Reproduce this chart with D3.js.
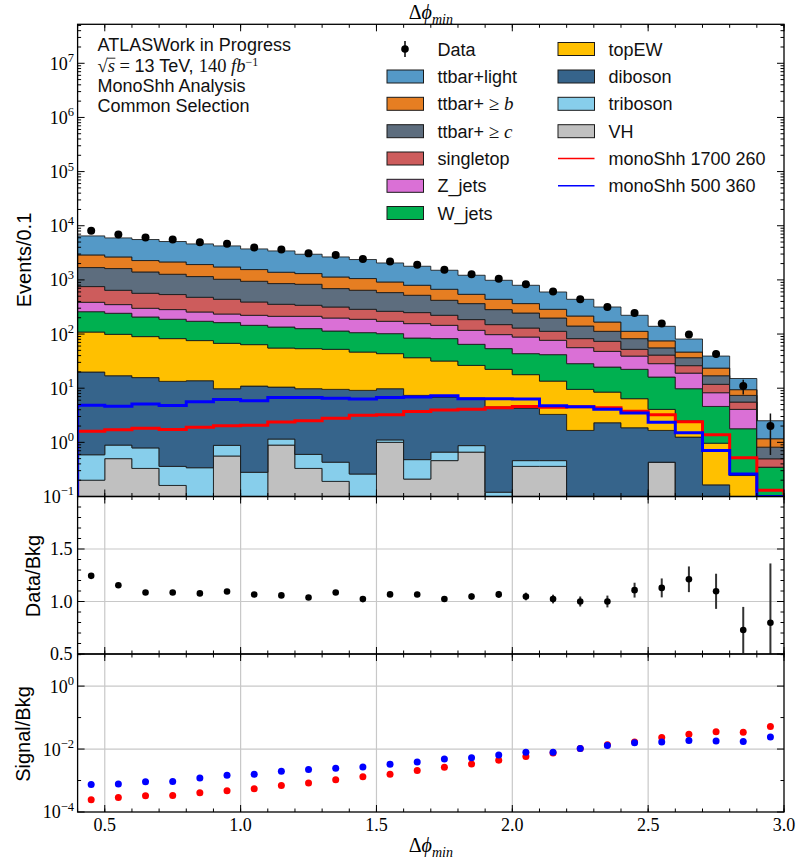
<!DOCTYPE html>
<html>
<head>
<meta charset="utf-8">
<script src="https://cdn.jsdelivr.net/npm/d3@7/dist/d3.min.js"></script>
<style>
  body { margin: 0; background: #fff; }
  svg { display: block; }
</style>
</head>
<body>
<svg id="chart"></svg>
<script>
// 分箱边界 (Δφmin, 步长 0.1)
const binEdges = [0.4, 0.5, 0.6, 0.7, 0.8, 0.9, 1.0, 1.1, 1.2, 1.3, 1.4, 1.5, 1.6, 1.7, 1.8,
  1.9, 2.0, 2.1, 2.2, 2.3, 2.4, 2.5, 2.6, 2.7, 2.8, 2.9, 3.0];

// 各本底过程每个分箱的事例数
const vhValues = [0.20, 0.50, 0.33, 0.16, 0, 0.56, 0, 0.89, 0.33, 0.19, 0, 1.0, 0.21, 0.46, 0.66, 0,
  0.36, 0.36, 0, 0, 0, 0.43, 0, 0, 0, 0];
const tribosonValues = [0.39, 0.39, 0.46, 0.20, 0.34, 0.32, 0.28, 0.26, 0.27, 0.24, 0.26, 0.11, 0.27,
  0.20, 0.21, 0.12, 0.10, 0.10, 0, 0, 0, 0, 0, 0, 0, 0];
const dibosonValues = [19.3, 16.1, 14.9, 13.0, 13.4, 8.9, 10.66, 9.33, 9.19, 9.08, 8.85, 8.67, 6.88,
  6.19, 5.7, 4.38, 3.83, 2.82, 1.66, 2.30, 1.86, 1.23, 1.25, 0.164, 0, 0];
const topEWValues = [89, 81.8, 74, 69, 62, 57.6, 52.8, 44.7, 44, 42.7, 37.4, 33.7, 29.2, 24.9, 19.8,
  17.8, 13.5, 10.25, 7.85, 6.17, 4.54, 2.4, 1.22, 0.80, 0.244, 0.048];
const wjetsValues = [150, 143, 117, 105, 96.3, 95.3, 81.2, 79.6, 72.2, 61.5, 59.7, 58.3, 47.8, 50.6,
  38.2, 31.5, 25.7, 28.1, 18.9, 16.1, 15.9, 12, 7.32, 3.64, 1.54, 0.30];
const zjetsValues = [127, 108, 92.5, 95.6, 83.5, 71.8, 77, 77.8, 86.6, 84.1, 81, 70.1, 71.4, 62.6,
  52.6, 43.8, 44.6, 35, 27.7, 23.3, 16.9, 12.35, 9.2, 3.65, 2.28, 0];
const singletopValues = [367, 293, 267, 253, 222, 204, 169, 141.8, 127, 118.2, 99.2, 91.1, 93.1, 77,
  67.6, 51.7, 41.1, 35.7, 26.2, 25.5, 13, 12.5, 7.1, 3.54, 1.48, 0.149];
const ttbarCValues = [937, 977, 836, 735, 675, 589, 552, 501, 490, 375, 357, 320, 271, 198, 180,
  133.5, 115.5, 85.5, 58.4, 38.9, 30.1, 14.7, 10.5, 5.2, 1.82, 0.318];
const ttbarBValues = [1200, 1035, 875, 875, 769, 707, 609, 529, 479, 442, 415, 332, 276, 251, 177,
  155.7, 120.4, 88.6, 74.7, 54.5, 30, 19.3, 9.9, 6.5, 2.03, 0.351];
const ttbarLightValues = [3600, 3305, 3290, 2967, 2696, 2506, 2178, 2042, 1668, 1521, 1318, 1140,
  990, 836, 676, 545, 430, 311.6, 222.6, 149.2, 109.7, 64.1, 34.4, 15.7, 5.7, 1.34];

// 数据
const dataValues = [8074, 6878, 6046, 5553, 4973, 4647, 3980, 3625, 3090, 2882, 2431, 2194, 1906,
  1542, 1276, 1050, 833, 612, 438, 316, 246, 157, 98, 43, 11, 2];

// 信号
const sig1700Values = [1.6, 1.71, 1.83, 1.72, 1.9, 2.02, 2.06, 2.37, 2.5, 2.8, 3.16, 3.25, 3.7, 3.95,
  4.1, 4.36, 4.6, 4.45, 4.55, 4.35, 3.75, 3.22, 2.4, 1.38, 0.52, 0.13];
const sig500Values = [4.85, 4.65, 5.1, 4.8, 5.6, 6.2, 5.85, 6.7, 6.7, 6.55, 6.35, 6.7, 6.9, 7.25, 6.4,
  6.4, 6.3, 4.75, 4.55, 4.1, 3.5, 2.34, 1.5, 0.71, 0.26, 0.061];

// 坐标轴刻度
const xTicks = [0.5, 1.0, 1.5, 2.0, 2.5, 3.0];
const xTickLabels = ["0.5", "1.0", "1.5", "2.0", "2.5", "3.0"];
const mainExponents = [-1, 0, 1, 2, 3, 4, 5, 6, 7];
const ratioTicks = [0.5, 1.0, 1.5];
const ratioTickLabels = ["0.5", "1.0", "1.5"];
const sigExponents = [-4, -2, 0];

// 本底堆叠顺序 (从下到上) 和颜色
const stackKeys = ["VH", "triboson", "diboson", "topEW", "W_jets", "Z_jets", "singletop",
  "ttbar_c", "ttbar_b", "ttbar_light"];
const stackValues = {
  VH: vhValues, triboson: tribosonValues, diboson: dibosonValues, topEW: topEWValues,
  W_jets: wjetsValues, Z_jets: zjetsValues, singletop: singletopValues,
  ttbar_c: ttbarCValues, ttbar_b: ttbarBValues, ttbar_light: ttbarLightValues
};
const stackColors = {
  VH: "#c0c0c0", triboson: "#87ceeb", diboson: "#36648b", topEW: "#ffc000", W_jets: "#00b050",
  Z_jets: "#da70d6", singletop: "#cd5c5c", ttbar_c: "#5d6d7e", ttbar_b: "#e67e22",
  ttbar_light: "#5499c7"
};

const serif = "'Liberation Serif', 'DejaVu Serif', serif";
const sans = "'Liberation Sans', Arial, sans-serif";

const width = 797, height = 859;
const left = 77.6, right = 784;
const mainTop = 24.3, mainBottom = 496.5, ratioBottom = 654, sigBottom = 812;

const svg = d3.select("#chart").attr("width", width).attr("height", height);

// 比例尺
const x = d3.scaleLinear().domain([0.4, 3.0]).range([left, right]);
const yMain = d3.scaleLog().domain([0.1, Math.pow(10, 7.72)]).range([mainBottom, mainTop]).clamp(true);
const yRatio = d3.scaleLinear().domain([0.5, 2.0]).range([ratioBottom, mainBottom]);
const ySig = d3.scaleLog().domain([1e-4, Math.pow(10, 1.02)]).range([sigBottom, ratioBottom]).clamp(true);

const nBins = binEdges.length - 1;
const binCenters = binEdges.slice(0, nBins).map((e, i) => (e + binEdges[i + 1]) / 2);

// 堆叠
const rows = binCenters.map((c, i) => {
  const r = {};
  stackKeys.forEach(k => r[k] = stackValues[k][i]);
  return r;
});
const stacked = d3.stack().keys(stackKeys)(rows);
const totals = rows.map(r => d3.sum(stackKeys, k => r[k]));

// 剪切区域
const defs = svg.append("defs");
function addClip(id, y0, y1) {
  defs.append("clipPath").attr("id", id)
    .append("rect").attr("x", left).attr("y", y0).attr("width", right - left).attr("height", y1 - y0);
}
addClip("clipMain", mainTop, mainBottom);
addClip("clipRatio", mainBottom, ratioBottom);
addClip("clipSig", ratioBottom, sigBottom);

// 网格线 (下面两个面板)
function drawGrid(y0, y1, yVals, yScale) {
  const g = svg.append("g").attr("stroke", "#c8c8c8").attr("stroke-width", 1.2);
  xTicks.filter(t => t < 3.0).forEach(t => {
    g.append("line").attr("x1", x(t)).attr("x2", x(t)).attr("y1", y0).attr("y2", y1);
  });
  yVals.forEach(v => {
    g.append("line").attr("x1", left).attr("x2", right).attr("y1", yScale(v)).attr("y2", yScale(v));
  });
}
drawGrid(mainBottom, ratioBottom, [1.0, 1.5], yRatio);
drawGrid(ratioBottom, sigBottom, [1, 1e-2], ySig);

// 堆叠直方图
const mainG = svg.append("g").attr("clip-path", "url(#clipMain)");
const area = d3.area()
  .curve(d3.curveStepAfter)
  .x(p => x(p.edge))
  .y0(p => yMain(Math.max(p.lo, 1e-4)))
  .y1(p => yMain(Math.max(p.hi, 1e-4)));

stacked.forEach(layer => {
  const pts = layer.map((s, i) => ({ edge: binEdges[i], lo: s[0], hi: s[1] }));
  pts.push({ edge: binEdges[nBins], lo: layer[nBins - 1][0], hi: layer[nBins - 1][1] });
  mainG.append("path")
    .attr("d", area(pts))
    .attr("fill", stackColors[layer.key])
    .attr("stroke", "#1a1a1a")
    .attr("stroke-width", 1)
    .attr("stroke-opacity", 0.85);
});

// 信号阶梯线
const stepLine = d3.line().curve(d3.curveStepAfter).x(p => x(p.edge)).y(p => yMain(Math.max(p.v, 1e-4)));
function signalPath(vals) {
  const pts = [{ edge: binEdges[0], v: 1e-4 }];
  vals.forEach((v, i) => pts.push({ edge: binEdges[i], v: v }));
  pts.push({ edge: binEdges[nBins], v: vals[nBins - 1] });
  pts.push({ edge: binEdges[nBins], v: 1e-4 });
  return stepLine(pts);
}
mainG.append("path").attr("d", signalPath(sig1700Values))
  .attr("fill", "none").attr("stroke", "#ff0000").attr("stroke-width", 3);
mainG.append("path").attr("d", signalPath(sig500Values))
  .attr("fill", "none").attr("stroke", "#0000ff").attr("stroke-width", 3);

// 数据点及统计误差
dataValues.forEach((n, i) => {
  const err = Math.sqrt(n);
  mainG.append("line")
    .attr("x1", x(binCenters[i])).attr("x2", x(binCenters[i]))
    .attr("y1", yMain(Math.max(n - err, 1e-4))).attr("y2", yMain(n + err))
    .attr("stroke", "#111").attr("stroke-width", 1.5);
  mainG.append("circle").attr("cx", x(binCenters[i])).attr("cy", yMain(n)).attr("r", 4).attr("fill", "#000");
});

// Data/Bkg
const ratioG = svg.append("g").attr("clip-path", "url(#clipRatio)");
dataValues.forEach((n, i) => {
  const r = n / totals[i];
  const e = Math.sqrt(n) / totals[i];
  ratioG.append("line")
    .attr("x1", x(binCenters[i])).attr("x2", x(binCenters[i]))
    .attr("y1", yRatio(r - e)).attr("y2", yRatio(r + e))
    .attr("stroke", "#333").attr("stroke-width", 2);
  ratioG.append("circle").attr("cx", x(binCenters[i])).attr("cy", yRatio(r)).attr("r", 3.3).attr("fill", "#000");
});

// Signal/Bkg
const sigG = svg.append("g").attr("clip-path", "url(#clipSig)");
[[sig1700Values, "#ff0000"], [sig500Values, "#0000ff"]].forEach(([vals, col]) => {
  vals.forEach((v, i) => {
    sigG.append("circle").attr("cx", x(binCenters[i])).attr("cy", ySig(v / totals[i]))
      .attr("r", 3.5).attr("fill", col);
  });
});

// 刻度 (朝内)
const xMinor = binEdges;
function drawXTicks(y0, y1, withLabels) {
  const g = svg.append("g").attr("stroke", "#000").attr("stroke-width", 1);
  xMinor.forEach(t => {
    g.append("line").attr("x1", x(t)).attr("x2", x(t)).attr("y1", y1).attr("y2", y1 - 3.5);
    g.append("line").attr("x1", x(t)).attr("x2", x(t)).attr("y1", y0).attr("y2", y0 + 3.5);
  });
  xTicks.forEach(t => {
    g.append("line").attr("x1", x(t)).attr("x2", x(t)).attr("y1", y1).attr("y2", y1 - 7);
    g.append("line").attr("x1", x(t)).attr("x2", x(t)).attr("y1", y0).attr("y2", y0 + 7);
  });
  if (withLabels) {
    xTicks.forEach((t, i) => {
      svg.append("text").attr("x", x(t)).attr("y", y1 + 18.5)
        .attr("text-anchor", "middle").attr("font-family", serif).attr("font-size", 18)
        .text(xTickLabels[i]);
    });
  }
}
drawXTicks(mainTop, mainBottom, false);
drawXTicks(mainBottom, ratioBottom, false);
drawXTicks(ratioBottom, sigBottom, true);

function drawYTicks(majors, minors, scale) {
  const g = svg.append("g").attr("stroke", "#000").attr("stroke-width", 1);
  minors.forEach(v => {
    const yy = scale(v);
    g.append("line").attr("x1", left).attr("x2", left + 3.5).attr("y1", yy).attr("y2", yy);
    g.append("line").attr("x1", right).attr("x2", right - 3.5).attr("y1", yy).attr("y2", yy);
  });
  majors.forEach(v => {
    const yy = scale(v);
    g.append("line").attr("x1", left).attr("x2", left + 7).attr("y1", yy).attr("y2", yy);
    g.append("line").attr("x1", right).attr("x2", right - 7).attr("y1", yy).attr("y2", yy);
  });
}

function powerLabel(exp, yy) {
  const t = svg.append("text").attr("x", left - 3.5).attr("y", yy).attr("dy", "0.36em")
    .attr("text-anchor", "end").attr("font-family", serif).attr("font-size", 18);
  t.append("tspan").text("10");
  t.append("tspan").attr("dy", -7.5).attr("font-size", 12.5).text(exp < 0 ? "\u2212" + (-exp) : String(exp));
}

// 主面板 y 轴
const mainMinor = [];
mainExponents.forEach(e => {
  for (let m = 2; m <= 9; m++) {
    const v = m * Math.pow(10, e);
    if (v < yMain.domain()[1]) mainMinor.push(v);
  }
});
drawYTicks(mainExponents.map(e => Math.pow(10, e)), mainMinor, yMain);
mainExponents.forEach(e => powerLabel(e, yMain(Math.pow(10, e))));

// 比值面板 y 轴
drawYTicks([0.5, 1.0, 1.5, 2.0], [0.6, 0.7, 0.8, 0.9, 1.1, 1.2, 1.3, 1.4, 1.6, 1.7, 1.8, 1.9], yRatio);
ratioTicks.forEach((t, i) => {
  svg.append("text").attr("x", left - 5).attr("y", yRatio(t)).attr("dy", "0.36em")
    .attr("text-anchor", "end").attr("font-family", serif).attr("font-size", 18)
    .text(ratioTickLabels[i]);
});

// 信号面板 y 轴
drawYTicks(sigExponents.map(e => Math.pow(10, e)), [1e-3, 1e-1, 10], ySig);
sigExponents.forEach(e => powerLabel(e, ySig(Math.pow(10, e))));

// 边框
[[mainTop, mainBottom], [mainBottom, ratioBottom], [ratioBottom, sigBottom]].forEach(([a, b]) => {
  svg.append("rect").attr("x", left).attr("y", a).attr("width", right - left).attr("height", b - a)
    .attr("fill", "none").attr("stroke", "#000").attr("stroke-width", 1.3);
});

// 轴标题
function phiLabel(yy) {
  const t = svg.append("text").attr("x", (left + right) / 2).attr("y", yy)
    .attr("text-anchor", "middle").attr("font-family", serif).attr("font-size", 20);
  t.append("tspan").text("\u0394");
  t.append("tspan").attr("font-style", "italic").text("\u03d5");
  t.append("tspan").attr("font-style", "italic").attr("font-size", 14).attr("dy", 4.5).text("min");
}
phiLabel(19);
phiLabel(852);

function yLabel(text, xx, yy) {
  svg.append("text").attr("transform", `translate(${xx},${yy}) rotate(-90)`)
    .attr("text-anchor", "middle").attr("font-family", sans).attr("font-size", 20).text(text);
}
yLabel("Events/0.1", 30.5, 260);
yLabel("Data/Bkg", 40, 576);
yLabel("Signal/Bkg", 30, 734);

// 左上角文字
const info = svg.append("g").attr("font-family", sans).attr("font-size", 18).attr("fill", "#111");
info.append("text").attr("x", 97.5).attr("y", 51).text("ATLASWork in Progress");
const line2 = info.append("text").attr("x", 97.5).attr("y", 72);
line2.append("tspan").attr("font-family", serif).attr("font-size", 18.5).text("\u221a");
line2.append("tspan").attr("font-family", serif).attr("font-style", "italic").attr("font-size", 18.5).text("s");
line2.append("tspan").attr("font-family", serif).attr("font-size", 18.5).text(" = ");
line2.append("tspan").text("13 TeV, ");
line2.append("tspan").attr("font-family", serif).attr("font-size", 18.5).text("140 ");
line2.append("tspan").attr("font-family", serif).attr("font-style", "italic").attr("font-size", 18.5).text("fb");
line2.append("tspan").attr("font-family", serif).attr("font-size", 12).attr("dy", -6.5).text("\u22121");
// 根号上的横线
{
  const node = line2.node();
  const root = node.getExtentOfChar(0);
  const sBox = node.getExtentOfChar(1);
  info.append("line")
    .attr("x1", root.x + root.width - 0.5).attr("x2", sBox.x + sBox.width + 0.5)
    .attr("y1", root.y + 2.2).attr("y2", root.y + 2.2)
    .attr("stroke", "#111").attr("stroke-width", 0.9);
}
info.append("text").attr("x", 97.5).attr("y", 92.3).text("MonoShh Analysis");
info.append("text").attr("x", 97.5).attr("y", 111.7).text("Common Selection");

// 图例
const legendRows = [49, 76.5, 103.8, 131.2, 158.5, 185.8, 213];
const legendCol1 = [
  { type: "data", label: [["Data"]] },
  { type: "patch", key: "ttbar_light", label: [["ttbar+light"]] },
  { type: "patch", key: "ttbar_b", label: [["ttbar+"], [" \u2265 ", "serif"], ["b", "italic"]] },
  { type: "patch", key: "ttbar_c", label: [["ttbar+"], [" \u2265 ", "serif"], ["c", "italic"]] },
  { type: "patch", key: "singletop", label: [["singletop"]] },
  { type: "patch", key: "Z_jets", label: [["Z_jets"]] },
  { type: "patch", key: "W_jets", label: [["W_jets"]] }
];
const legendCol2 = [
  { type: "patch", key: "topEW", label: [["topEW"]] },
  { type: "patch", key: "diboson", label: [["diboson"]] },
  { type: "patch", key: "triboson", label: [["triboson"]] },
  { type: "patch", key: "VH", label: [["VH"]] },
  { type: "line", color: "#ff0000", label: [["monoShh 1700 260"]] },
  { type: "line", color: "#0000ff", label: [["monoShh 500 360"]] }
];

function drawLegend(items, x0) {
  items.forEach((it, i) => {
    const cy = legendRows[i];
    if (it.type === "patch") {
      svg.append("rect").attr("x", x0).attr("y", cy - 6.5).attr("width", 36.5).attr("height", 13)
        .attr("fill", stackColors[it.key]).attr("stroke", "#1a1a1a").attr("stroke-width", 1);
    } else if (it.type === "line") {
      svg.append("line").attr("x1", x0).attr("x2", x0 + 36.5).attr("y1", cy).attr("y2", cy)
        .attr("stroke", it.color).attr("stroke-width", 1.5);
    } else {
      svg.append("line").attr("x1", x0 + 18).attr("x2", x0 + 18).attr("y1", cy - 8).attr("y2", cy + 8)
        .attr("stroke", "#000").attr("stroke-width", 1.5);
      svg.append("circle").attr("cx", x0 + 18).attr("cy", cy).attr("r", 3.8).attr("fill", "#000");
    }
    const t = svg.append("text").attr("x", x0 + 50.5).attr("y", cy + 6.5)
      .attr("font-family", sans).attr("font-size", 18).attr("fill", "#111");
    it.label.forEach(([s, style]) => {
      const sp = t.append("tspan").text(s);
      if (style === "serif") sp.attr("font-family", serif).attr("font-size", 19);
      if (style === "italic") sp.attr("font-family", serif).attr("font-style", "italic").attr("font-size", 19);
    });
  });
}
drawLegend(legendCol1, 387);
drawLegend(legendCol2, 558);
</script>
</body>
</html>
